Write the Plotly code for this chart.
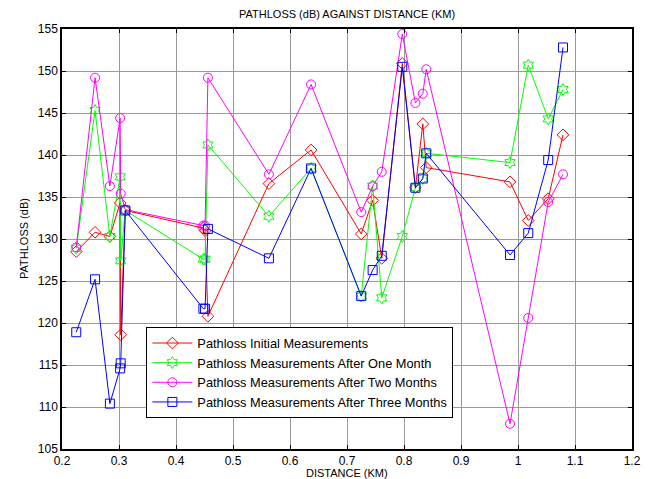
import plotly.graph_objects as go

distance = [0.225, 0.258, 0.284, 0.302, 0.303, 0.311, 0.448, 0.451, 0.456, 0.563, 0.637,
            0.725, 0.745, 0.761, 0.797, 0.820, 0.833, 0.839, 0.986, 1.018, 1.053, 1.079]

initial = [128.5, 130.8, 130.3, 134.3, 118.6, 133.4, 131.3, 131.0, 120.8, 136.6, 140.6,
           130.6, 134.6, 127.7, 150.9, 136.1, 143.7, 138.5, 136.8, 132.2, 134.8, 142.4]
one_month = [128.9, 145.3, 130.3, 137.4, 127.4, 133.4, 127.6, 127.6, 141.2, 132.7, 138.4,
             123.2, 136.3, 123.0, 130.3, 136.1, 137.2, 140.2, 139.1, 150.7, 144.3, 147.8]
two_months = [129.0, 149.2, 136.3, 144.4, 135.4, 133.5, 131.6, 131.6, 149.2, 137.7, 148.4,
              133.2, 136.3, 138.0, 154.4, 146.2, 147.3, 150.2, 108.0, 120.6, 134.4, 137.7]
three_months = [118.9, 125.2, 110.4, 114.6, 115.2, 133.4, 121.7, 121.7, 131.2, 127.7, 138.4,
                123.2, 126.3, 128.0, 150.5, 136.1, 137.2, 140.2, 128.1, 130.7, 139.4, 152.8]

series = [
    ("Pathloss Initial Measurements", initial, "#ff0000", "diamond-open"),
    ("Pathloss Measurements After One Month", one_month, "#00ff00", "hexagram-open"),
    ("Pathloss Measurements After Two Months", two_months, "#ff00ff", "circle-open"),
    ("Pathloss Measurements After Three Months", three_months, "#0000ff", "square-open"),
]

fig = go.Figure()
for name, vals, color, sym in series:
    fig.add_trace(go.Scatter(
        x=distance, y=vals, mode="lines+markers", name=name,
        line=dict(color=color, width=1),
        marker=dict(symbol=sym, size=9, color=color, line=dict(width=1, color=color)),
    ))

axis_common = dict(
    showline=True, linecolor="black", linewidth=1.5, mirror="ticks",
    ticks="inside", ticklen=4, tickcolor="black",
    showgrid=True, gridcolor="#9a9a9a", gridwidth=1,
    zeroline=False, tickfont=dict(family="Liberation Sans, Arial", size=12, color="black"),
)

fig.update_layout(
    width=660, height=479,
    margin=dict(l=62, r=28, t=29, b=30),
    paper_bgcolor="white", plot_bgcolor="white",
    showlegend=True,
    legend=dict(
        x=0.148, y=0.29, xanchor="left", yanchor="top",
        bgcolor="white", bordercolor="black", borderwidth=1,
        font=dict(family="Liberation Sans, Arial", size=12.8, color="black"),
        tracegroupgap=0, itemwidth=40,
    ),
    xaxis=dict(range=[0.2, 1.2], dtick=0.1, tick0=0.2, **axis_common),
    yaxis=dict(range=[105, 155], dtick=5, tick0=105, **axis_common),
    annotations=[
        dict(text="PATHLOSS (dB) AGAINST DISTANCE (KM)", xref="paper", yref="paper",
             x=0.5, y=1, yanchor="bottom", yshift=7, showarrow=False,
             font=dict(family="Liberation Sans, Arial", size=11, color="black")),
        dict(text="DISTANCE (KM)", xref="paper", yref="paper",
             x=0.5, y=0, yanchor="top", yshift=-16, showarrow=False,
             font=dict(family="Liberation Sans, Arial", size=11, color="black")),
        dict(text="PATHLOSS (dB)", xref="paper", yref="paper", textangle=-90,
             x=0, y=0.5, xanchor="right", xshift=-30, showarrow=False,
             font=dict(family="Liberation Sans, Arial", size=11, color="black")),
    ],
)

fig.write_html("out.html")
